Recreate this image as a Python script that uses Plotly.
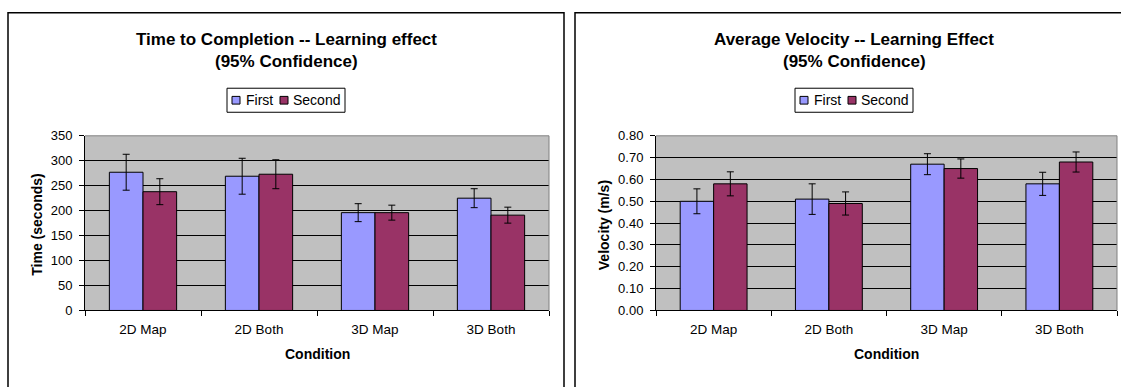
import plotly.graph_objects as go

# ---------------- data ----------------
categories = ["2D Map", "2D Both", "3D Map", "3D Both"]
series_names = ["First", "Second"]

time_first = [277, 269, 196, 225]
time_first_err = [36, 36, 18, 19]
time_second = [238, 273, 196, 191]
time_second_err = [26, 29, 15, 16]

vel_first = [0.50, 0.51, 0.67, 0.58]
vel_first_err = [0.057, 0.070, 0.048, 0.053]
vel_second = [0.58, 0.49, 0.65, 0.68]
vel_second_err = [0.055, 0.053, 0.044, 0.046]

time_ticks = [0, 50, 100, 150, 200, 250, 300, 350]
vel_ticks = [0.0, 0.1, 0.2, 0.3, 0.4, 0.5, 0.6, 0.7, 0.8]
vel_tick_text = ["0.00", "0.10", "0.20", "0.30", "0.40", "0.50", "0.60", "0.70", "0.80"]

titles_left = ["Time to Completion -- Learning effect", "(95% Confidence)"]
titles_right = ["Average Velocity -- Learning Effect", "(95% Confidence)"]
x_title = "Condition"
y_title_left = "Time (seconds)"
y_title_right = "Velocity (m/s)"

# ---------------- style ----------------
W, H = 1121, 387
FONT = "Arial, Liberation Sans, sans-serif"
C_FIRST = "#9999FF"
C_SECOND = "#993366"
PLOT_BG = "#C0C0C0"


def px(x):
    return x / W


def py(y):
    return 1 - y / H


fig = go.Figure()


def add_bars(vals, errs, name, color, xa, ya):
    fig.add_trace(go.Bar(
        x=categories, y=vals, name=name, xaxis=xa, yaxis=ya,
        marker=dict(color=color, line=dict(color="black", width=1)),
        error_y=dict(type="data", array=errs, visible=True, color="black",
                     thickness=1, width=3.5),
        showlegend=False,
    ))


add_bars(time_first, time_first_err, series_names[0], C_FIRST, "x", "y")
add_bars(time_second, time_second_err, series_names[1], C_SECOND, "x", "y")
add_bars(vel_first, vel_first_err, series_names[0], C_FIRST, "x2", "y2")
add_bars(vel_second, vel_second_err, series_names[1], C_SECOND, "x2", "y2")

ydom = [py(315.7), py(134)]

xcommon = dict(type="category", categoryorder="array", categoryarray=categories,
               showgrid=False, showline=True, linecolor="black", linewidth=1,
               ticks="outside", tickson="boundaries", ticklen=5, tickcolor="black",
               tickfont=dict(family=FONT, size=13.5, color="black"),
               ticklabelstandoff=6, zeroline=False)
ycommon = dict(showgrid=True, gridcolor="black", gridwidth=1,
               showline=True, linecolor="black", linewidth=1,
               ticks="outside", ticklen=5, tickcolor="black",
               tickfont=dict(family=FONT, size=13, color="black"),
               ticklabelstandoff=4, zeroline=False, domain=ydom)

fig.update_layout(
    width=W, height=H, autosize=False,
    margin=dict(l=0, r=0, t=0, b=0),
    paper_bgcolor="white", plot_bgcolor=PLOT_BG,
    barmode="group", bargap=0.42, bargroupgap=0,
    font=dict(family=FONT, color="black"),
    xaxis=dict(domain=[px(85), px(549)], anchor="y", **xcommon),
    yaxis=dict(anchor="x", range=[0, 350], tickvals=time_ticks, **ycommon),
    xaxis2=dict(domain=[px(656), px(1117)], anchor="y2", **xcommon),
    yaxis2=dict(anchor="x2", range=[0, 0.8], tickvals=vel_ticks,
                ticktext=vel_tick_text, **ycommon),
)

shapes = []
annotations = []

panels = [
    dict(box=(8, 564), center=286, plot=(85, 549), xa="x", ya="y",
         titles=titles_left, ytitle=y_title_left, ytx=37.5, yty=227),
    dict(box=(575, 1140), center=854, plot=(656, 1117), xa="x2", ya="y2",
         titles=titles_right, ytitle=y_title_right, ytx=604, yty=227),
]

for p in panels:
    # panel frame
    shapes.append(dict(type="rect", xref="paper", yref="paper",
                       x0=px(p["box"][0]), x1=px(p["box"][1]),
                       y0=-0.1, y1=py(6),
                       line=dict(color="black", width=1.5), fillcolor="rgba(0,0,0,0)",
                       layer="above"))
    # gray plot-area border (top and right)
    xd, yd = p["xa"] + " domain", p["ya"] + " domain"
    shapes.append(dict(type="line", xref=xd, yref=yd, x0=0, x1=1, y0=1, y1=1,
                       line=dict(color="#808080", width=1), layer="above"))
    shapes.append(dict(type="line", xref=xd, yref=yd, x0=1, x1=1, y0=0, y1=1,
                       line=dict(color="#808080", width=1), layer="above"))
    # titles
    for txt, yy in zip(p["titles"], [34, 57]):
        annotations.append(dict(text="<b>" + txt + "</b>", xref="paper", yref="paper",
                                x=px(p["center"]), y=py(yy), xanchor="center",
                                yanchor="middle", showarrow=False,
                                font=dict(family=FONT, size=17, color="black")))
    # axis titles
    annotations.append(dict(text="<b>" + x_title + "</b>", xref="paper", yref="paper",
                            x=px((p["plot"][0] + p["plot"][1]) / 2), y=py(361),
                            xanchor="center", yanchor="middle", showarrow=False,
                            font=dict(family=FONT, size=14, color="black")))
    annotations.append(dict(text="<b>" + p["ytitle"] + "</b>", xref="paper", yref="paper",
                            x=px(p["ytx"]), y=py(p["yty"]), textangle=-90,
                            xanchor="center", yanchor="middle", showarrow=False,
                            font=dict(family=FONT, size=14, color="black")))
    # legend box
    lx = p["center"] - 59
    shapes.append(dict(type="rect", xref="paper", yref="paper",
                       x0=px(lx), x1=px(lx + 118), y0=py(109.5), y1=py(84.5),
                       line=dict(color="black", width=1), fillcolor="white"))
    for name, col, sx, tx in zip(series_names, [C_FIRST, C_SECOND], [5, 53], [17, 64]):
        shapes.append(dict(type="rect", xref="paper", yref="paper",
                           x0=px(lx + sx), x1=px(lx + sx + 8), y0=py(101), y1=py(93),
                           line=dict(color="black", width=1), fillcolor=col))
        annotations.append(dict(text=name, xref="paper", yref="paper",
                                x=px(lx + tx), y=py(97), xanchor="left",
                                yanchor="middle", showarrow=False,
                                font=dict(family=FONT, size=14, color="black")))

fig.update_layout(shapes=shapes, annotations=annotations)

fig.write_html("out.html", config={"displayModeBar": False},
               post_script="document.body.style.margin='0';")
